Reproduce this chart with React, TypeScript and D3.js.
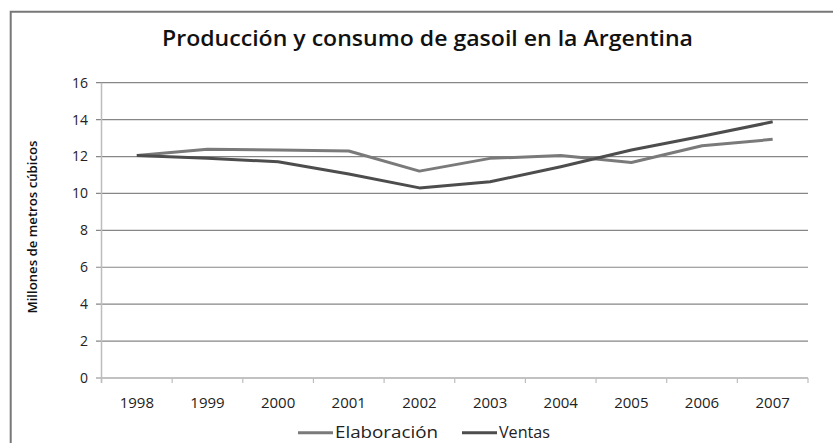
import * as d3 from 'd3';

const years = ['1998', '1999', '2000', '2001', '2002', '2003', '2004', '2005', '2006', '2007'];
const elaboracion = [12.06, 12.39, 12.35, 12.3, 11.21, 11.9, 12.05, 11.68, 12.58, 12.93];
const ventas = [12.06, 11.9, 11.72, 11.05, 10.3, 10.63, 11.45, 12.35, 13.1, 13.88];
const yTicks = [0, 2, 4, 6, 8, 10, 12, 14, 16];

const W = 833;
const H = 443;
const plot = { left: 101.5, right: 808, top: 82.7, bottom: 378 };

export default function App() {
  const x = d3.scaleBand().domain(years).range([plot.left, plot.right]);
  const y = d3.scaleLinear().domain([0, 16]).range([plot.bottom, plot.top]);
  const cx = (yr: string) => (x(yr) as number) + x.bandwidth() / 2;

  const line = d3
    .line<number>()
    .x((_, i) => cx(years[i]))
    .y((d) => y(d));

  const series = [
    { name: 'Elaboración', values: elaboracion, color: '#7a7a7a', lx: 298, tw: 103 },
    { name: 'Ventas', values: ventas, color: '#4d4d4d', lx: 462, tw: 51 },
  ];

  const tickXs = years.map((yr) => x(yr) as number).concat([plot.right]);

  return (
    <svg
      width={W}
      height={H}
      style={{ position: 'absolute', left: 0, top: 0, background: '#fff' }}
      fontFamily="'Open Sans', sans-serif"
    >
      {/* chart frame */}
      <path d={`M10.7,${H} V11.7 H${W}`} fill="none" stroke="#777" strokeWidth={2} />

      <text
        x={162}
        y={46}
        fontSize={21}
        fontWeight={600}
        fill="#111"
        textLength={531}
        lengthAdjust="spacingAndGlyphs"
      >
        Producción y consumo de gasoil en la Argentina
      </text>

      {/* gridlines */}
      {yTicks.map((t) => (
        <line
          key={t}
          x1={96}
          x2={plot.right}
          y1={y(t)}
          y2={y(t)}
          stroke="#868686"
          strokeWidth={1.2}
        />
      ))}
      {yTicks.map((t) => (
        <text
          key={'l' + t}
          x={88}
          y={y(t)}
          dy="0.35em"
          textAnchor="end"
          fontSize={14}
          fill="#222"
        >
          {t}
        </text>
      ))}

      {/* y axis line */}
      <line x1={plot.left} x2={plot.left} y1={plot.top} y2={plot.bottom + 5} stroke="#bdbdbd" strokeWidth={1.5} />
      {tickXs.map((tx, i) => (
        <line key={'t' + i} x1={tx} x2={tx} y1={plot.bottom} y2={plot.bottom + 5} stroke="#bdbdbd" strokeWidth={1.2} />
      ))}

      {years.map((yr) => (
        <text key={yr} x={cx(yr)} y={408} textAnchor="middle" fontSize={15} fill="#222">
          {yr}
        </text>
      ))}

      <text
        transform={`translate(37,227) rotate(-90)`}
        textAnchor="middle"
        fontSize={13}
        fontWeight={600}
        fill="#111"
        textLength={173}
        lengthAdjust="spacingAndGlyphs"
      >
        Millones de metros cúbicos
      </text>

      {series.map((s) => (
        <path
          key={s.name}
          d={line(s.values) as string}
          fill="none"
          stroke={s.color}
          strokeWidth={3}
          strokeLinejoin="round"
        />
      ))}

      {/* legend */}
      {series.map((s) => (
        <g key={'lg' + s.name}>
          <line x1={s.lx} x2={s.lx + 35} y1={432.7} y2={432.7} stroke={s.color} strokeWidth={3} />
          <text
            x={s.lx + 37}
            y={432.7}
            dy="0.36em"
            fontSize={16}
            fill="#222"
            textLength={s.tw}
            lengthAdjust="spacingAndGlyphs"
          >
            {s.name}
          </text>
        </g>
      ))}
    </svg>
  );
}
